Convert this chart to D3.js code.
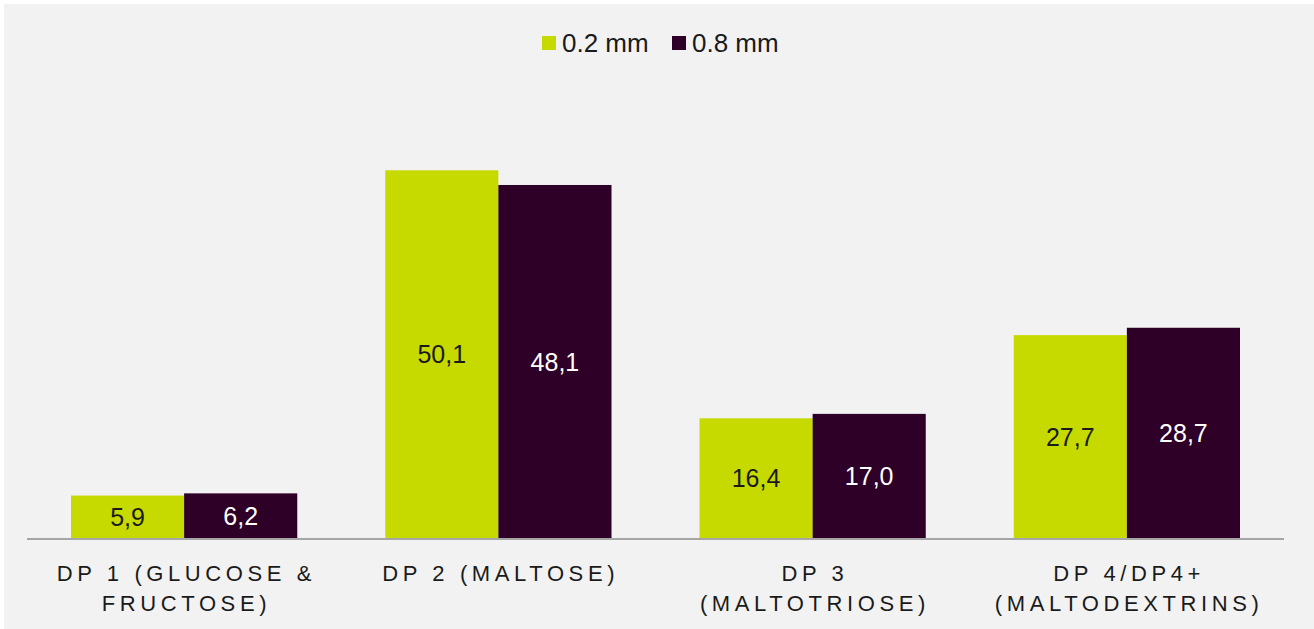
<!DOCTYPE html>
<html><head><meta charset="utf-8">
<script src="https://cdn.jsdelivr.net/npm/d3@7"></script>
<style>body{margin:0;background:#fff}</style>
</head><body>
<svg id="c" width="1314" height="629"></svg>
<script>
const categories = ["DP 1 (GLUCOSE & FRUCTOSE)", "DP 2 (MALTOSE)", "DP 3 (MALTOTRIOSE)", "DP 4/DP4+ (MALTODEXTRINS)"];
const seriesNames = ["0.2 mm", "0.8 mm"];
const values02 = [5.9, 50.1, 16.4, 27.7];
const values08 = [6.2, 48.1, 17.0, 28.7];
const colors = ["#c6da00", "#2e0027"];
const labelColors = ["#1a1a1a", "#ffffff"];

const svg = d3.select("#c");
svg.append("rect").attr("x",4).attr("y",4).attr("width",1310).attr("height",625).attr("fill","#f2f2f2");

const left = 27, right = 1284, base = 539;
const x = d3.scaleBand().domain(categories).range([left, right]).paddingInner(0.28).paddingOuter(0.14);
const xs = d3.scaleBand().domain(seriesNames).range([0, x.bandwidth()]);
const y = d3.scaleLinear().domain([0, 60]).range([base, base - 60*7.36]);

const data = categories.map((c,i)=>({c, vals:[values02[i], values08[i]]}));
const fmt = v => d3.format(".1f")(v).replace(".", ",");

const g = svg.append("g");
data.forEach(d=>{
  d.vals.forEach((v,j)=>{
    const bx = x(d.c) + xs(seriesNames[j]);
    g.append("rect").attr("x", bx).attr("y", y(v)).attr("width", xs.bandwidth()).attr("height", y(0)-y(v)).attr("fill", colors[j]);
    g.append("text").attr("x", bx + xs.bandwidth()/2).attr("y", (y(v)+y(0))/2).attr("dy","0.35em")
      .attr("text-anchor","middle").attr("font-family","Liberation Sans, Arial, sans-serif").attr("font-size",25)
      .attr("fill", labelColors[j]).text(fmt(v));
  });
});

// axis
const xAxis = d3.axisBottom(x).tickSize(0).tickPadding(0);
const ax = svg.append("g").attr("transform",`translate(0,${base})`).call(xAxis);
ax.select(".domain").attr("stroke","#a6a6a6").attr("stroke-width",2).attr("d",`M${left},0H${right}`);
ax.selectAll(".tick text").remove();

function wrapLines(t){
  const words = t.split(" ");
  const lines = []; let cur = "";
  const maxChars = 16;
  words.forEach(w=>{
    const test = cur ? cur + " " + w : w;
    if (test.length > maxChars && cur){ lines.push(cur); cur = w; } else cur = test;
  });
  lines.push(cur);
  return lines;
}
ax.selectAll(".tick").each(function(d){
  const lines = wrapLines(d);
  const t = d3.select(this).append("text").attr("text-anchor","middle")
    .attr("font-family","Liberation Sans, Arial, sans-serif").attr("font-size",22)
    .attr("letter-spacing","4.6px").attr("fill","#1a1a1a");
  lines.forEach((l,i)=>{
    t.append("tspan").attr("x", 2.3).attr("y", 42 + i*30).text(l);
  });
});

// legend
const leg = svg.append("g");
const legX = [542, 672];
seriesNames.forEach((s,i)=>{
  leg.append("rect").attr("x",legX[i]).attr("y",36).attr("width",14).attr("height",14).attr("fill",colors[i]);
  leg.append("text").attr("x",legX[i]+20).attr("y",52).attr("font-family","Liberation Sans, Arial, sans-serif")
    .attr("font-size",26).attr("fill","#1a1a1a").text(s);
});
</script>
</body></html>
